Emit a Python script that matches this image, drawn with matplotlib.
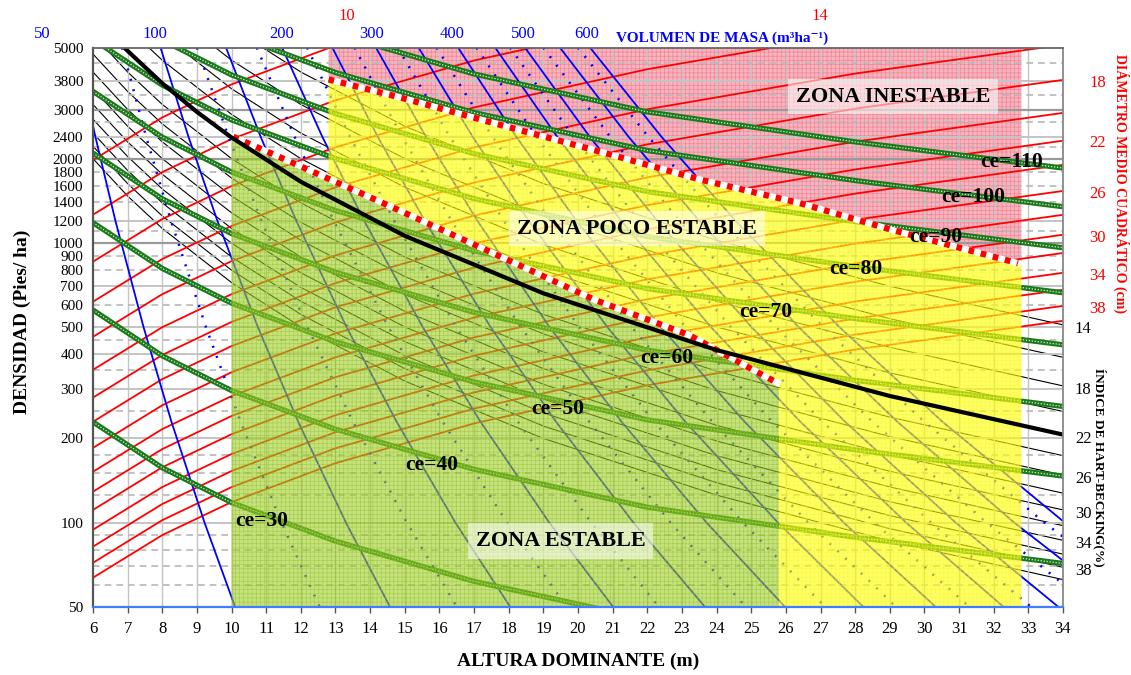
import matplotlib.pyplot as plt

plt.rcParams['font.family'] = ['Liberation Serif', 'DejaVu Serif']
plt.rcParams['hatch.linewidth'] = 0.5

# ---- axes ----
ho_ticks = list(range(6, 35))
n_ticks = [50, 100, 200, 300, 400, 500, 600, 700, 800, 900, 1000, 1200, 1400,
           1600, 1800, 2000, 2400, 3000, 3800, 5000]

# ---- Hart-Becking lines (N read at these heights) ----
hb_ho = [6, 7, 8, 10, 12, 15, 19, 24, 29, 34]
hb_ih = [14, 16, 18, 20, 24, 26, 28, 30, 32, 34, 36, 38, 40]
hb_n = [
    [None, None, None, 5892, 4092, 2619, 1632, 1023, 700.6, 509.7],
    [None, None, 7048, 4510, 3132, 2005, 1249, 783, 536.3, 390.2],
    [None, None, 5569, 3564, 2475, 1584, 987.3, 618.8, 423.8, 308.3],
    [None, 5892, 4510, 2887, 2005, 1283, 799.7, 501.2, 343.3, 249.7],
    [5570, 4092, 3133, 2005, 1393, 891.3, 555.5, 348.2, 238.4, 173.5],
    [4745, 3486, 2669, 1708, 1186, 759.2, 473.2, 296.6, 203.1, 147.8],
    [4092, 3006, 2302, 1473, 1023, 654.7, 408.0, 255.8, 175.1, 127.4],
    [3564, 2618, 2005, 1283, 891, 570.3, 355.4, 222.8, 152.6, 111.0],
    [3132, 2301, 1762, 1128, 783, 501.1, 312.4, 195.8, 134.1, 97.5],
    [2775, 2039, 1561, 999.2, 693.9, 444.1, 276.8, 173.5, 118.8, 86.4],
    [2475, 1818, 1392, 891, 618.8, 396, 246.8, 154.7, 105.9, 77.1],
    [2221, 1632, 1250, 799.8, 555.5, 355.4, 221.5, 138.9, 95.1, 69.2],
    [2005, 1473, 1128, 722, 501.3, 320.8, 200, 125.4, 85.9, 62.5],
]
# thick line, IH = 22 %
hb22_ho = [6.9, 7, 8, 9, 10, 12, 15, 19, 24, 29, 34]
hb22_n = [5012, 4870, 3728, 2946, 2386, 1657, 1061, 661, 414.3, 283.7, 206.4]

# ---- quadratic mean diameter lines (cm) ----
dg_ho = [6, 8, 10, 13, 17, 22, 28, 34]
dg_cm = [10, 12, 14, 16, 18, 20, 22, 24, 26, 28, 30, 32, 34, 36, 38, 40]
dg_n = [
    [1982, 2815, 3697, 5090, None, None, None, None],
    [1263, 1794, 2356, 3243, 4500, 6163, None, None],
    [858, 1219, 1600, 2203, 3057, 4187, 5619, None],
    [617, 876.5, 1151, 1584, 2198, 3011, 4041, 5121],
    [462, 656.3, 861.6, 1186, 1646, 2255, 3026, 3835],
    [352, 500, 656.5, 904, 1254, 1718, 2305, 2922],
    [280, 397.7, 522.2, 719, 997.6, 1366, 1834, 2324],
    [229.5, 326, 428, 589.4, 817.7, 1120, 1503, 1905],
    [185, 262.8, 345, 475, 659.2, 902.8, 1212, 1536],
    [152, 216, 283.5, 390.3, 541.6, 741.8, 995.4, 1262],
    [129, 183.2, 240.6, 331.3, 459.6, 629.5, 844.8, 1071],
    [111, 157.7, 207, 285, 395.5, 541.7, 727, 921.3],
    [94.3, 134, 175.9, 242.2, 336, 460.2, 617.6, 782.7],
    [82, 116.5, 152.9, 210.6, 292.2, 400.2, 537, 680.6],
    [71.8, 102, 133.9, 184.4, 255.8, 350.4, 470.2, 596],
    [63.5, 90.2, 118.4, 163.1, 226.3, 309.9, 415.9, 527],
]

# ---- ce lines ----
ce_ho = [6, 8, 10, 13, 17, 22, 28, 34]
ce_val = [30, 40, 50, 60, 70, 80, 90, 100, 110]
ce_n = [
    [229, 157.1, 117.9, 85.8, 61.6, 45.1, None, None],
    [576, 395.1, 296.6, 215.8, 155.1, 113.5, 88.6, 71.4],
    [1183, 811.5, 609.2, 443.2, 318.5, 233.1, 182.1, 146.7],
    [2099, 1440, 1081, 786.3, 565.1, 413.5, 323.0, 260.3],
    [3488, 2393, 1796, 1307, 939.0, 687.1, 536.8, 432.5],
    [5355, 3674, 2758, 2006, 1442, 1055, 824.1, 664.0],
    [None, 5322, 3995, 2906, 2088, 1528, 1194, 962],
    [None, None, 5603, 4075, 2929, 2143, 1674, 1349],
    [None, None, None, 5604, 4027, 2947, 2302, 1855],
]

# ---- volume lines: height where each line crosses these densities ----
vol_levels = [5000, 2400, 1200, 500, 230, 100, 50]
vol_solid = [50, 100, 150, 200, 250, 300, 350, 400, 450, 500, 550, 600]
vol_solid_ho = [
    [5.51, 6.069, 6.648, 7.460, 8.262, 9.219, 10.10],
    [7.95, 8.756, 9.592, 10.76, 11.92, 13.30, 14.57],
    [9.84, 10.84, 11.87, 13.32, 14.76, 16.46, 18.04],
    [11.46, 12.62, 13.83, 15.52, 17.18, 19.17, 21.01],
    [12.91, 14.22, 15.58, 17.48, 19.36, 21.60, 23.66],
    [14.17, 15.61, 17.10, 19.18, 21.25, 23.71, 25.97],
    [15.40, 16.96, 18.58, 20.85, 23.09, 25.77, 28.23],
    [16.54, 18.22, 19.96, 22.39, 24.80, 27.67, 30.32],
    [17.61, 19.40, 21.25, 23.84, 26.41, 29.47, 32.28],
    [18.47, 20.34, 22.29, 25.01, 27.70, 30.90, 33.86],
    [19.48, 21.46, 23.50, 26.37, 29.21, 32.59, 35.71],
    [20.35, 22.41, 24.55, 27.55, 30.51, 34.05, 37.30],
]
vol_dotted = [75, 125, 175, 225, 275, 325, 375, 425, 475, 525, 575]
vol_dotted_ho = [
    [6.84, 7.534, 8.253, 9.261, 10.26, 11.44, 12.54],
    [9.00, 9.913, 10.86, 12.19, 13.50, 15.06, 16.50],
    [10.73, 11.82, 12.95, 14.53, 16.09, 17.95, 19.67],
    [12.18, 13.42, 14.70, 16.49, 18.26, 20.38, 22.33],
    [13.55, 14.92, 16.35, 18.35, 20.32, 22.67, 24.84],
    [14.80, 16.30, 17.86, 20.04, 22.19, 24.76, 27.13],
    [15.92, 17.53, 19.21, 21.55, 23.87, 26.64, 29.18],
    [17.07, 18.80, 20.60, 23.11, 25.60, 28.56, 31.29],
    [18.04, 19.87, 21.77, 24.42, 27.05, 30.19, 33.07],
    [19.00, 20.93, 22.93, 25.72, 28.49, 31.79, 34.83],
    [20.00, 22.03, 24.13, 27.08, 29.99, 33.46, 36.66],
]

# ---- stability zone limits ----
upper_ho = [12.8, 14.9, 17.5, 20.6, 23.5, 26.4, 29.0, 32.7]
upper_n = [3850, 3310, 2700, 2130, 1690, 1390, 1120, 847]
lower_ho = [10.05, 12.0, 12.8, 14.6, 17.75, 20.5, 23.2, 25.75]
lower_n = [2400, 1880, 1698, 1350, 896, 625, 469, 316]
zone_x = [10.0, 12.8, 25.8, 32.8]


def pts(xs, ns):
    keep = [(x, n) for x, n in zip(xs, ns) if n is not None]
    return [k[0] for k in keep], [k[1] for k in keep]


W, H = 1131, 675
fig = plt.figure(figsize=(W / 100, H / 100), dpi=100)
ax = fig.add_axes([93 / W, 1 - 606.7 / H, 970 / W, 559 / H])
ax.set_yscale('log')
ax.set_xlim(6, 34)
ax.set_ylim(50, 5000)

# grid
for x in ho_ticks[1:-1]:
    ax.axvline(x, color='#c4c4c4', lw=1.0, zorder=1.4)
for n in [100, 200, 300, 400, 500, 700, 1200, 2400, 3800]:
    ax.axhline(n, color='#c4c4c4', lw=1.4, zorder=1.4)
for n in [1000, 2000, 3000]:
    ax.axhline(n, color='#9a9a9a', lw=1.6, zorder=1.4)
for n in [60, 70, 80, 90, 125, 150, 175, 250, 350, 450, 600, 800, 900,
          1100, 1400, 1600, 1800, 2200, 2700, 3400, 4400]:
    ax.axhline(n, color='#b8b8b8', lw=1.2, ls=(0, (4, 3)), zorder=1.4)

# Hart-Becking lines
for row in hb_n:
    xs, ns = pts(hb_ho, row)
    ax.plot(xs, ns, color='black', lw=0.8, zorder=1.0)

# unstable zone
px = [zone_x[1], zone_x[3], zone_x[3]] + upper_ho[::-1]
py = [5000, 5000, upper_n[-1]] + upper_n[::-1]
ax.fill(px, py, fc='#f7b3be', ec='#ef8796', lw=0, hatch='++++', zorder=1.2)

# diameter lines
for row in dg_n:
    xs, ns = pts(dg_ho, row)
    ax.plot(xs, ns, color='#ff0000', lw=1.3, zorder=2)

# volume lines
for row in vol_solid_ho:
    ax.plot(row, vol_levels, color='#0000ff', lw=1.3, zorder=2)
for row in vol_dotted_ho:
    ax.plot(row, vol_levels, color='#0000ff', lw=1.8, ls=(0, (0.8, 3.5)), zorder=2)

# ce lines
for row in ce_n:
    xs, ns = pts(ce_ho, row)
    ax.plot(xs, ns, color='#1b7a1b', lw=3.8, zorder=2.1, solid_capstyle='butt')
    ax.plot(xs, ns, color='#d8ecd0', lw=0.9, ls=(0, (1, 1.4)), zorder=2.2)

# stable zone
gx = [zone_x[0]] + lower_ho + [zone_x[2], zone_x[2], zone_x[0]]
gy = [lower_n[0]] + lower_n + [lower_n[-1], 50, 50]
ax.fill(gx, gy, fc=(0.62, 0.80, 0.14, 0.58), ec=(0.55, 0.74, 0.08, 0.5), lw=0,
        hatch='++++', zorder=3)

# poorly stable zone
yx = upper_ho + [zone_x[3], zone_x[3], zone_x[2], zone_x[2]] + lower_ho[:1:-1] + [zone_x[1]]
yy = upper_n + [upper_n[-1], 50, 50, lower_n[-1]] + lower_n[:1:-1] + [upper_n[0]]
ax.fill(yx, yy, fc=(1, 1, 0.0, 0.62), ec=(0.95, 0.95, 0.25, 0.5), lw=0,
        hatch='++++', zorder=3)

# limits between zones
for xs, ns in [(upper_ho, upper_n), (lower_ho, lower_n)]:
    ax.plot(xs, ns, color='white', lw=4.5, zorder=4)
    ax.plot(xs, ns, color='#ff0000', lw=4.5, ls=(0, (0.9, 1.1)), zorder=4.1)

ax.plot(hb22_ho, hb22_n, color='black', lw=3, zorder=4.2)

# zone names
box = dict(boxstyle='square,pad=0.35', fc='white', ec='none', alpha=0.55)
ax.text(29.1, 3340, 'ZONA INESTABLE', fontsize=16, fontweight='bold',
        ha='center', va='center', bbox=box, zorder=5)
ax.text(21.7, 1126, 'ZONA POCO ESTABLE', fontsize=16, fontweight='bold',
        ha='center', va='center', bbox=box, zorder=5)
ax.text(19.5, 86, 'ZONA ESTABLE', fontsize=16, fontweight='bold',
        ha='center', va='center', bbox=box, zorder=5)

ce_pos = [(262, 521), (432, 465), (558, 409), (667, 358), (766, 312),
          (856, 269), (936, 237), (973, 197), (1012, 162)]
for v, (cx, cy) in zip(ce_val, ce_pos):
    fig.text(cx / W, 1 - cy / H, f'ce={v}', fontsize=15.5, fontweight='bold',
             ha='center', va='center', zorder=6)

# axes styling
ax.set_xticks(ho_ticks)
ax.set_xticklabels([str(t) for t in ho_ticks], fontsize=12)
ax.set_yticks(n_ticks)
ax.set_yticklabels([str(t) for t in n_ticks], fontsize=11)
ax.minorticks_off()
ax.tick_params(axis='x', length=4, width=1, color='#555555', pad=6)
ax.tick_params(axis='y', length=0, pad=7)
ax.spines['left'].set_color('#555555')
ax.spines['left'].set_linewidth(1.6)
ax.spines['top'].set_color('#666666')
ax.spines['top'].set_linewidth(1.3)
ax.spines['right'].set_color('#888888')
ax.spines['right'].set_linewidth(1.3)
ax.spines['bottom'].set_color('#3f7cff')
ax.spines['bottom'].set_linewidth(1.6)
for s in ax.spines.values():
    s.set_zorder(6)

fig.text(578 / W, 1 - 661 / H, 'ALTURA DOMINANTE (m)', fontsize=14,
         fontweight='bold', ha='center', va='center')
fig.text(22 / W, 1 - 322 / H, 'DENSIDAD (Pies/ ha)', fontsize=14,
         fontweight='bold', ha='center', va='center', rotation=90)

# top: volume labels and diameter labels
for lab, cx in zip(['50', '100', '200', '300', '400', '500', '600'],
                   [42, 155, 282, 372, 452, 523, 587]):
    fig.text(cx / W, 1 - 34 / H, lab, fontsize=12, color='#0000ff',
             ha='center', va='center')
fig.text(722 / W, 1 - 38 / H, 'VOLUMEN DE MASA (m³ha⁻¹)', fontsize=11,
         fontweight='bold', color='#0000ff', ha='center', va='center')
fig.text(347 / W, 1 - 16 / H, '10', fontsize=12, color='#ff0000',
         ha='center', va='center')
fig.text(820 / W, 1 - 16 / H, '14', fontsize=12, color='#ff0000',
         ha='center', va='center')

# right: diameter and Hart-Becking labels at the end of their lines
for d, row in zip(dg_cm, dg_n):
    if d in (18, 22, 26, 30, 34, 38):
        ax.annotate(str(d), xy=(34, row[-1]), xytext=(25, -2),
                    textcoords='offset points', fontsize=12, color='#ff0000',
                    ha='center', va='center', annotation_clip=False)
for ih, row in zip(hb_ih, hb_n):
    if ih in (14, 18, 26, 30, 34, 38):
        ax.annotate(str(ih), xy=(34, row[-1]), xytext=(14.5, -3),
                    textcoords='offset points', fontsize=12, color='black',
                    ha='center', va='center', annotation_clip=False)
ax.annotate('22', xy=(34, hb22_n[-1]), xytext=(14.5, -3),
            textcoords='offset points', fontsize=12, color='black',
            ha='center', va='center', annotation_clip=False)

fig.text(1121 / W, 1 - 184 / H, 'DIÁMETRO MEDIO CUADRÁTICO (cm)', fontsize=10,
         fontweight='bold', color='#ff0000', ha='center', va='center',
         rotation=-90)
fig.text(1100 / W, 1 - 467 / H, 'ÍNDICE DE HART-BECKING(%)', fontsize=9.5,
         fontweight='bold', color='black', ha='center', va='center',
         rotation=-90)

fig.savefig('out.png', dpi=100)
